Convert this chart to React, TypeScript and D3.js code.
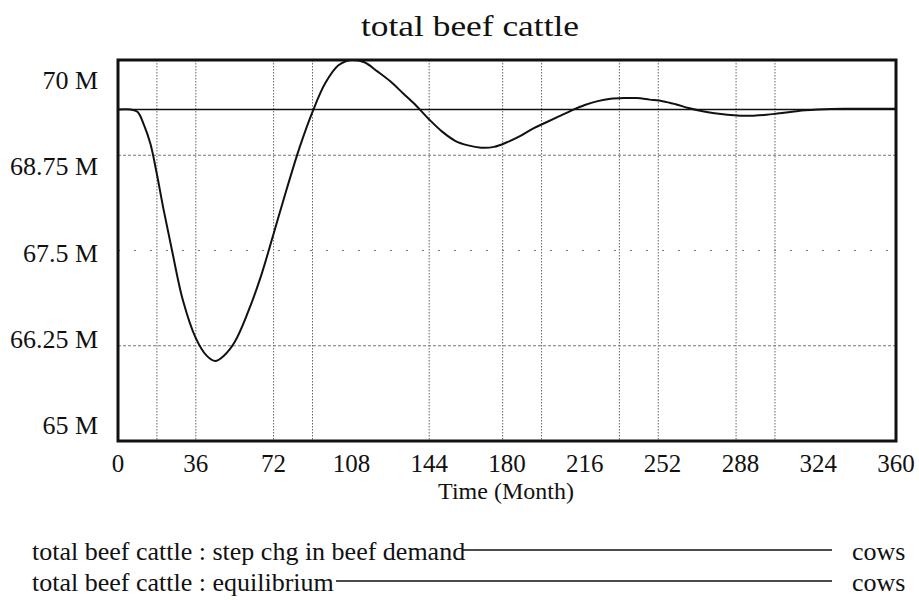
import * as d3 from "d3";

// time in months and value in millions of cows
const months = [
  0, 6, 9, 12, 15, 18, 21, 25, 30, 36, 41, 45, 49, 54, 60, 66, 72, 78, 84, 90,
  96, 102, 108, 114, 120, 126, 132, 138, 144, 150, 156, 162, 168, 174, 180, 186,
  192, 198, 204, 210, 216, 222, 228, 234, 240, 246, 252, 258, 264, 270, 276, 282,
  288, 294, 300, 306, 312, 318, 324, 336, 348, 360,
];
const stepDemand = [
  69.35, 69.35, 69.32, 69.15, 68.9, 68.5, 68.05, 67.5, 66.85, 66.35, 66.12, 66.05,
  66.12, 66.3, 66.68, 67.15, 67.72, 68.3, 68.85, 69.32, 69.7, 69.93, 70.0, 69.97,
  69.85, 69.72, 69.56, 69.4, 69.22, 69.06, 68.94, 68.88, 68.85, 68.86, 68.92, 69.0,
  69.1, 69.18, 69.26, 69.34, 69.41, 69.46, 69.49, 69.5, 69.5, 69.48, 69.46, 69.42,
  69.37, 69.33, 69.3, 69.28, 69.27, 69.27, 69.28, 69.3, 69.32, 69.34, 69.35, 69.36,
  69.36, 69.36,
];
const eqMonths = [0, 360];
const equilibrium = [69.35, 69.35];

const xTicks = [0, 36, 72, 108, 144, 180, 216, 252, 288, 324, 360];
const yTicks = [70, 68.75, 67.5, 66.25, 65];
const yTickLabels = ["70 M", "68.75 M", "67.5 M", "66.25 M", "65 M"];
const xGrid = [18, 36, 72, 90, 144, 178, 196, 232, 250, 286, 304];
const yGrid = [68.75, 67.5, 66.25];

const legendLabels = [
  "total beef cattle : step chg in beef demand",
  "total beef cattle : equilibrium",
];
const legendUnits = ["cows", "cows"];

const W = 919;
const H = 600;
const plot = { left: 118, right: 896, top: 60, bottom: 441 };
const font = "Liberation Serif, Times New Roman, serif";
const txt = { fontFamily: font };

export default function App() {
  const x = d3.scaleLinear().domain([0, 360]).range([plot.left, plot.right]);
  const y = d3.scaleLinear().domain([65, 70]).range([plot.bottom, plot.top]);
  // tick labels sit a bit inside the frame, like the original
  const yLab = d3.scaleLinear().domain([65, 70]).range([434, 89]);

  const line = d3
    .line<number>()
    .x((_, i) => x(months[i]))
    .y((d) => y(d))
    .curve(d3.curveCatmullRom);
  const eqLine = d3
    .line<number>()
    .x((_, i) => x(eqMonths[i]))
    .y((d) => y(d));

  const legendRows = [
    { y: 560, lineFrom: 462 },
    { y: 591, lineFrom: 336 },
  ];

  return (
    <div style={{ position: "absolute", left: 0, top: 0 }}>
      <svg width={W} height={H} style={{ display: "block", background: "#fff", fontFamily: font }}>
        <text x={470} y={36} fontSize={30} textAnchor="middle" fill="#111" style={txt} textLength={218} lengthAdjust="spacingAndGlyphs">
          total beef cattle
        </text>

        {/* grid */}
        {xGrid.map((m) => (
          <line
            key={"gx" + m}
            x1={x(m)}
            x2={x(m)}
            y1={plot.top}
            y2={plot.bottom}
            stroke="#666"
            strokeWidth={1}
            strokeDasharray="1.5,1.5"
          />
        ))}
        {yGrid.map((v) => (
          <line
            key={"gy" + v}
            x1={plot.left}
            x2={plot.right}
            y1={y(v)}
            y2={y(v)}
            stroke="#777"
            strokeWidth={1}
            strokeDasharray={v === 67.5 ? "2,14" : "3,2"}
          />
        ))}

        {/* series */}
        <path d={eqLine(equilibrium) ?? ""} fill="none" stroke="#111" strokeWidth={1.5} />
        <path d={line(stepDemand) ?? ""} fill="none" stroke="#111" strokeWidth={2} />

        {/* frame */}
        <rect
          x={plot.left}
          y={plot.top}
          width={plot.right - plot.left}
          height={plot.bottom - plot.top}
          fill="none"
          stroke="#111"
          strokeWidth={3}
        />

        {/* y tick labels */}
        {yTicks.map((v, i) => (
          <text key={"yl" + v} x={98} y={yLab(v)} fontSize={26} textAnchor="end" fill="#111" style={txt}>
            {yTickLabels[i]}
          </text>
        ))}

        {/* x tick labels */}
        {xTicks.map((m) => (
          <text key={"xl" + m} x={x(m)} y={472} fontSize={25} textAnchor="middle" fill="#111" style={txt}>
            {m}
          </text>
        ))}
        <text x={506} y={499} fontSize={24} textAnchor="middle" fill="#111" style={txt}>
          Time (Month)
        </text>

        {/* legend */}
        {legendRows.map((r, i) => (
          <g key={"lg" + i}>
            <text x={32} y={r.y} fontSize={26} fill="#111" style={txt}>
              {legendLabels[i]}
            </text>
            <line x1={r.lineFrom} x2={832} y1={r.y - 10} y2={r.y - 10} stroke="#111" strokeWidth={1.5} />
            <text x={852} y={r.y} fontSize={26} fill="#111" style={txt}>
              {legendUnits[i]}
            </text>
          </g>
        ))}
      </svg>
    </div>
  );
}
